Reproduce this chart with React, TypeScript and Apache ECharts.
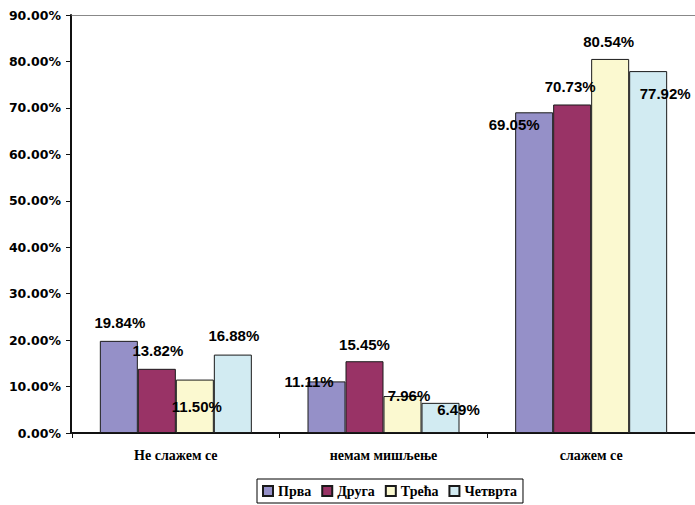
import React, { useEffect, useRef } from "react";
import * as echarts from "echarts";

const categories = ["Не слажем се", "немам мишљење", "слажем се"];
const seriesNames = ["Прва", "Друга", "Трећа", "Четврта"];
const prva = [19.84, 11.11, 69.05];
const druga = [13.82, 15.45, 70.73];
const treca = [11.5, 7.96, 80.54];
const cetvrta = [16.88, 6.49, 77.92];
const yTicks = { min: 0, max: 90, interval: 10 };

const seriesValues = [prva, druga, treca, cetvrta];
const colors = ["#9590C8", "#993366", "#FBF9D0", "#D2EBF2"];
// Excel-like quirky label placements (dx, dy from bar top centre)
const labelOffsets = [
  [[1, -18], [-17.5, 0.5], [-20, 12]],
  [[1, -18], [0, -17], [-2, -17.5]],
  [[2, 27], [6.5, -1], [-1.5, -17]],
  [[1, -19.5], [18, 7], [17, 22]],
];

export default function App() {
  const ref = useRef<HTMLDivElement>(null);
  useEffect(() => {
    if (!ref.current) return;
    const chart = echarts.init(ref.current, null, { renderer: "svg" });
    chart.setOption({
      animation: false,
      backgroundColor: "#ffffff",
      grid: { left: 72, top: 15, width: 628, height: 418, containLabel: false },
      legend: {
        left: 257,
        top: 479,
        padding: [5, 6, 5, 5],
        borderColor: "#000",
        borderWidth: 1,
        itemWidth: 10,
        itemHeight: 10,
        itemGap: 10,
        icon: "rect",
        textStyle: {
          fontFamily: "Liberation Serif",
          fontWeight: "bold",
          fontSize: 14,
          color: "#000",
        },
        data: seriesNames,
      },
      xAxis: [
        {
          type: "category",
          data: categories,
          axisLine: { lineStyle: { color: "#111", width: 2 } },
          axisTick: { show: true, length: 5, lineStyle: { color: "#111", width: 1 } },
          axisLabel: {
            margin: 15,
            fontFamily: "Liberation Serif",
            fontWeight: "bold",
            fontSize: 14,
            color: "#000",
          },
        },
        {
          type: "category",
          data: categories,
          position: "top",
          axisLine: { lineStyle: { color: "#888", width: 1 } },
          axisTick: { show: false },
          axisLabel: { show: false },
        },
      ],
      yAxis: {
        type: "value",
        min: yTicks.min,
        max: yTicks.max,
        interval: yTicks.interval,
        offset: 1,
        splitLine: { show: false },
        axisLine: { show: true, lineStyle: { color: "#111", width: 2 } },
        axisTick: { show: true, length: 5, lineStyle: { color: "#111", width: 1 } },
        axisLabel: {
          margin: 10,
          fontFamily: "DejaVu Sans",
          fontWeight: "bold",
          fontSize: 12.5,
          color: "#000",
          formatter: (v: number) => v.toFixed(2) + "%",
        },
      },
      series: seriesNames.map((name, s) => ({
        name,
        type: "bar",
        xAxisIndex: 0,
        barWidth: 38,
        barGap: "0%",
        itemStyle: { color: colors[s], borderColor: "#1a1a1a", borderWidth: 1 },
        label: {
          show: true,
          position: "top",
          distance: 0,
          align: "center",
          verticalAlign: "middle",
          fontFamily: "Liberation Sans",
          fontWeight: "bold",
          fontSize: 15,
          color: "#000",
          formatter: (p: any) => Number(p.value).toFixed(2) + "%",
        },
        data: seriesValues[s].map((v, i) => ({
          value: v,
          label: { offset: labelOffsets[s][i] },
        })),
      })),
    });
    return () => chart.dispose();
  }, []);
  return (
    <div
      ref={ref}
      style={{ position: "fixed", left: 0, top: 0, width: 695, height: 505, background: "#fff" }}
    />
  );
}
